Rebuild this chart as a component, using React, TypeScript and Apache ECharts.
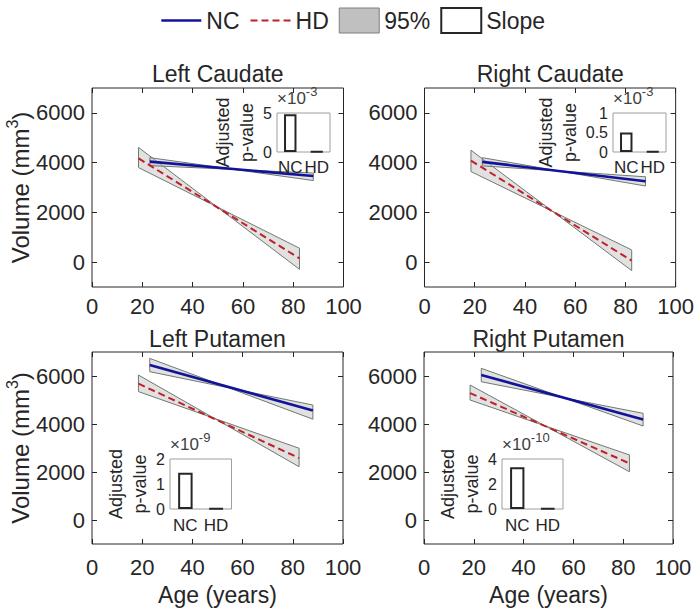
import React, { useEffect, useRef } from 'react';
import * as echarts from 'echarts';

// ---------- data ----------
const panelTitles = ['Left Caudate', 'Right Caudate', 'Left Putamen', 'Right Putamen'];
const ageTicks = [0, 20, 40, 60, 80, 100];
const volumeTicks = [0, 2000, 4000, 6000];
const ncAgeRange = [23, 88];
const hdAgeRange = [18.5, 82.5];
// fitted volume at start / end age
const ncFit = [[4040, 3460], [4030, 3250], [6460, 4560], [6040, 4190]];
const hdFit = [[4170, 150], [4080, 60], [5680, 2580], [5290, 2360]];
// 95% band: [upper at start, lower at start, upper at end, lower at end]
const ncBand = [[4200, 3880, 3580, 3280], [4200, 3870, 3430, 3060], [6735, 6180, 4790, 4200], [6320, 5760, 4445, 3915]];
const hdBand = [[4610, 3800, 560, -290], [4500, 3640, 490, -340], [6040, 5350, 2990, 2220], [5625, 5000, 2710, 2010]];
// slope inset: adjusted p-values (mantissa) and exponent
const slopeGroups = ['NC', 'HD'];
const pValueNC = [4.85, 0.5, 1.45, 3.35];
const pValueHD = [0.04, 0.01, 0.02, 0.05];
const pExponent = ['-3', '-3', '-9', '-10'];
const pAxisMax = [5, 1, 2, 4];
const pAxisStep = [5, 0.5, 1, 2];

// ---------- layout / style ----------
const FONT = '"Liberation Sans", Arial, Helvetica, sans-serif';
const INK = '#262626';
const NC_COLOR = '#12129a';
const HD_COLOR = '#c0202a';
const INSET_EDGE = '#9e9e9e';
const MAIN_BOX = [
  { left: 92, top: 88, width: 251.5, height: 199 },
  { left: 424.5, top: 88, width: 251.5, height: 199 },
  { left: 92, top: 352, width: 251, height: 192 },
  { left: 424, top: 352, width: 249, height: 192 },
];
const INSET_BOX = [
  { left: 277, top: 113, width: 53, height: 39 },
  { left: 613, top: 113, width: 53, height: 39 },
  { left: 170, top: 459, width: 61.5, height: 50 },
  { left: 502, top: 459, width: 61, height: 50 },
];
const INSET_NAME_GAP = [16, 31, 14, 12];

function bandItem(ages: number[], band: number[]) {
  // [xStart, xEnd, hiStart, loStart, hiEnd, loEnd]
  return [ages[0], ages[1], band[0], band[1], band[2], band[3]];
}

const plain = (v: number) => String(v);

function buildOption() {
  const grid: any[] = [];
  const xAxis: any[] = [];
  const yAxis: any[] = [];
  const series: any[] = [];
  const title: any[] = [];
  const tickLine = { lineStyle: { color: INK, width: 1 } };

  panelTitles.forEach((name, i) => {
    const b = MAIN_BOX[i];
    const isLeft = i % 2 === 0;
    const isBottom = i >= 2;
    grid.push({ ...b, show: true, borderColor: INK, borderWidth: 1, backgroundColor: 'transparent' });
    title.push({
      text: name, left: b.left + b.width / 2, top: isBottom ? 327 : 62, textAlign: 'center', padding: 0,
      textStyle: { fontSize: 23, fontWeight: 'normal', color: INK, fontFamily: FONT },
    });
    xAxis.push({
      gridIndex: i, type: 'value', min: ageTicks[0], max: ageTicks[ageTicks.length - 1], interval: 20,
      axisLine: { show: false, onZero: false }, splitLine: { show: false },
      axisTick: { inside: true, length: 5, ...tickLine },
      axisLabel: { fontSize: 22, color: INK, margin: isBottom ? 12 : 8, fontFamily: FONT, formatter: plain },
      name: isBottom ? 'Age (years)' : '', nameLocation: 'middle', nameGap: 39,
      nameTextStyle: { fontSize: 23, color: INK, fontFamily: FONT },
    });
    xAxis.push({
      gridIndex: i, type: 'value', position: 'top', min: 0, max: 100, interval: 20,
      axisLine: { show: false, onZero: false }, splitLine: { show: false },
      axisTick: { inside: true, length: 5, ...tickLine }, axisLabel: { show: false },
    });
    yAxis.push({
      gridIndex: i, type: 'value', min: -1000, max: 7000,
      axisLine: { show: false, onZero: false }, splitLine: { show: false },
      axisTick: { inside: true, length: 5, customValues: volumeTicks, ...tickLine },
      axisLabel: { customValues: volumeTicks, fontSize: 22, color: INK, margin: 7, fontFamily: FONT, formatter: plain },
      name: isLeft ? '{a|Volume (mm}{b|3}{a|)}' : '', nameLocation: 'middle', nameRotate: 90, nameGap: 55,
      nameTextStyle: {
        color: INK, fontFamily: FONT,
        rich: {
          a: { fontSize: 24, lineHeight: 32, color: INK, fontFamily: FONT },
          b: { fontSize: 16, verticalAlign: 'top', color: INK, fontFamily: FONT },
        },
      },
    });
    yAxis.push({
      gridIndex: i, type: 'value', position: 'right', min: -1000, max: 7000,
      axisLine: { show: false, onZero: false }, splitLine: { show: false },
      axisTick: { inside: true, length: 5, customValues: volumeTicks, ...tickLine },
      axisLabel: { show: false, customValues: volumeTicks },
    });

    series.push({
      type: 'custom', name: '95%', xAxisIndex: 2 * i, yAxisIndex: 2 * i,
      encode: { x: [0, 1], y: [2, 3, 4, 5] },
      data: [bandItem(hdAgeRange, hdBand[i]), bandItem(ncAgeRange, ncBand[i])],
      itemStyle: { color: '#c8c8c8' },
      renderItem: (params: any, api: any) => {
        const xs = api.value(0), xe = api.value(1);
        const pts = [
          api.coord([xs, api.value(2)]),
          api.coord([xe, api.value(5)]),
          api.coord([xe, api.value(4)]),
          api.coord([xs, api.value(3)]),
        ];
        return {
          type: 'polygon', shape: { points: pts },
          style: { fill: 'rgba(195,195,195,0.5)', stroke: '#6f7a6f', lineWidth: 1 },
        };
      },
      z: 2,
    });
    series.push({
      type: 'line', name: 'HD', xAxisIndex: 2 * i, yAxisIndex: 2 * i, symbol: 'none',
      data: [[hdAgeRange[0], hdFit[i][0]], [hdAgeRange[1], hdFit[i][1]]],
      lineStyle: { color: HD_COLOR, width: 2, type: [7, 4] }, itemStyle: { color: HD_COLOR }, z: 3,
    });
    series.push({
      type: 'line', name: 'NC', xAxisIndex: 2 * i, yAxisIndex: 2 * i, symbol: 'none',
      data: [[ncAgeRange[0], ncFit[i][0]], [ncAgeRange[1], ncFit[i][1]]],
      lineStyle: { color: NC_COLOR, width: 2.6 }, itemStyle: { color: NC_COLOR }, z: 4,
    });
  });

  INSET_BOX.forEach((b, i) => {
    const gi = 4 + i;
    const isBottom = i >= 2;
    grid.push({ ...b, show: true, borderColor: INSET_EDGE, borderWidth: 1, backgroundColor: '#fff' });
    xAxis.push({
      gridIndex: gi, type: 'category', data: slopeGroups, z: 10,
      axisLine: { show: false, onZero: false }, axisTick: { show: false }, splitLine: { show: false },
      axisLabel: { fontSize: 17, color: INK, margin: isBottom ? 8 : 7, fontFamily: FONT, interval: 0 },
    });
    const range = { min: 0, max: pAxisMax[i], interval: pAxisStep[i] };
    yAxis.push({
      gridIndex: gi, type: 'value', ...range, z: 10,
      axisLine: { show: false, onZero: false }, splitLine: { show: false },
      axisTick: { inside: true, length: 4, lineStyle: { color: INSET_EDGE } },
      axisLabel: { fontSize: 16, color: INK, margin: 5, fontFamily: FONT, formatter: plain },
      name: 'Adjusted\np-value', nameLocation: 'middle', nameRotate: 90, nameGap: INSET_NAME_GAP[i],
      nameTextStyle: { fontSize: 18, lineHeight: 24, color: INK, fontFamily: FONT },
    });
    yAxis.push({
      gridIndex: gi, type: 'value', position: 'right', ...range, z: 10,
      axisLine: { show: false, onZero: false }, splitLine: { show: false },
      axisTick: { inside: true, length: 4, lineStyle: { color: INSET_EDGE } },
      axisLabel: { show: false },
    });
    yAxis.push({
      gridIndex: gi, type: 'value', position: 'left', ...range, z: 10,
      axisLine: { show: false, onZero: false }, splitLine: { show: false }, axisTick: { show: false }, axisLabel: { show: false },
      name: `{a|×10}{b|${pExponent[i]}}`, nameLocation: 'end', nameGap: 2,
      nameTextStyle: {
        align: 'left', verticalAlign: 'bottom',
        rich: {
          a: { fontSize: 17, lineHeight: 26, color: '#404040', fontFamily: FONT },
          b: { fontSize: 13, verticalAlign: 'top', color: '#404040', fontFamily: FONT },
        },
      },
    });
    series.push({
      type: 'bar', name: 'Slope', xAxisIndex: 8 + i, yAxisIndex: 8 + 3 * i,
      data: [pValueNC[i], pValueHD[i]], barWidth: '47%',
      itemStyle: { color: '#fff', borderColor: INK, borderWidth: 2 }, z: 10,
    });
  });

  const hiddenSymbol = { color: 'rgba(0,0,0,0)', borderWidth: 0, opacity: 0 };
  return {
    animation: false,
    backgroundColor: '#fff',
    textStyle: { fontFamily: FONT },
    title,
    legend: {
      left: 160, top: 7, padding: 0, itemWidth: 40, itemHeight: 25, itemGap: 10, selectedMode: false,
      textStyle: { fontSize: 23, color: INK, fontFamily: FONT },
      data: [
        { name: 'NC', itemStyle: hiddenSymbol, lineStyle: { color: NC_COLOR, width: 2.6 } },
        { name: 'HD', itemStyle: hiddenSymbol, lineStyle: { color: HD_COLOR, width: 2, type: [7, 4] } },
        { name: '95%', icon: 'rect', itemStyle: { color: '#c0c0c0', borderColor: '#7f7f7f', borderWidth: 1 } },
        { name: 'Slope', icon: 'rect', itemStyle: { color: '#fff', borderColor: INK, borderWidth: 2 } },
      ],
    },
    grid, xAxis, yAxis, series,
  };
}

export default function App() {
  const ref = useRef<HTMLDivElement>(null);
  useEffect(() => {
    document.body.style.margin = '0';
    const chart = echarts.init(ref.current!, null, { renderer: 'svg' });
    chart.setOption(buildOption() as any);
    return () => chart.dispose();
  }, []);
  return <div ref={ref} style={{ width: 697, height: 611 }} />;
}
